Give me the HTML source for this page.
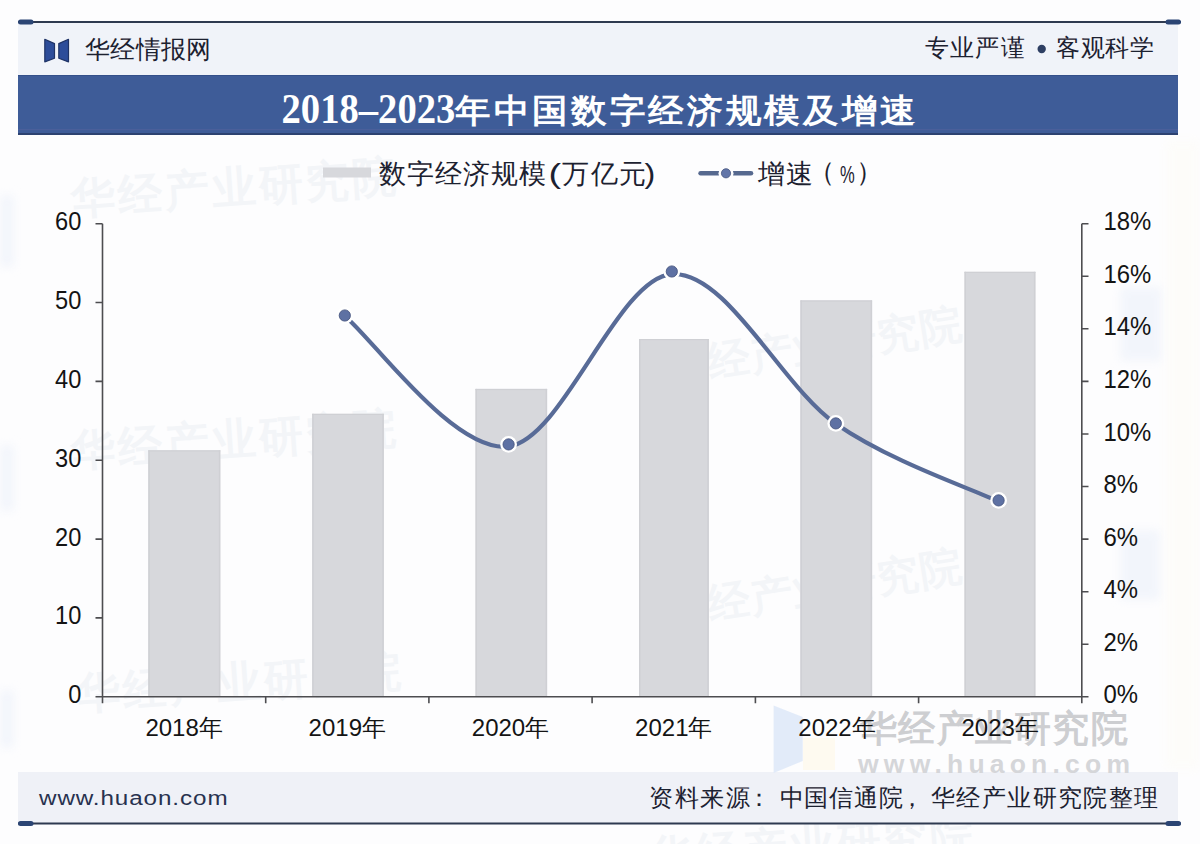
<!DOCTYPE html>
<html><head><meta charset="utf-8">
<style>
html,body{margin:0;padding:0;}
body{width:1200px;height:844px;overflow:hidden;background:#fdfdfe;position:relative;font-family:"Liberation Sans",sans-serif;}
svg{position:absolute;left:0;top:0;}
</style></head>
<body>
<svg width="1200" height="844" viewBox="0 0 1200 844" font-family="Liberation Sans, sans-serif">
<defs>
  <radialGradient id="blob" cx="0.5" cy="0.5" r="0.5">
    <stop offset="0" stop-color="#e9eff9" stop-opacity="0.55"/>
    <stop offset="1" stop-color="#e6edf8" stop-opacity="0"/>
  </radialGradient>
  <filter id="soft" x="-50%" y="-50%" width="200%" height="200%"><feGaussianBlur stdDeviation="5"/></filter>
</defs>

<rect x="0" y="195" width="14" height="72" fill="#e8eef9" opacity="0.5" filter="url(#soft)"/>
<rect x="0" y="445" width="14" height="66" fill="#e8eef9" opacity="0.5" filter="url(#soft)"/>
<rect x="0" y="690" width="14" height="58" fill="#e8eef9" opacity="0.5" filter="url(#soft)"/>
<rect x="1120" y="287" width="42" height="74" fill="#e8eef9" opacity="0.5" filter="url(#soft)"/>
<rect x="1120" y="530" width="40" height="70" fill="#e8eef9" opacity="0.5" filter="url(#soft)"/>
<rect x="1166" y="140" width="34" height="630" fill="#fdfcf7" opacity="0.6" filter="url(#soft)"/>
<text transform="translate(72,214) rotate(-4)" font-size="44" font-weight="bold" fill="#f3f5f8" letter-spacing="3">华经产业研究院</text>
<text transform="translate(72,466) rotate(-4)" font-size="44" font-weight="bold" fill="#f3f5f8" letter-spacing="3">华经产业研究院</text>
<text transform="translate(668,384) rotate(-9)" font-size="42" font-weight="bold" fill="#f3f5f8" letter-spacing="0.8">华经产业研究院</text>
<text transform="translate(668,626) rotate(-9)" font-size="42" font-weight="bold" fill="#f3f5f8" letter-spacing="0.8">华经产业研究院</text>
<text transform="translate(77,709) rotate(-4)" font-size="44" font-weight="bold" fill="#f3f5f8" letter-spacing="3">华经产业研究院</text>
<text transform="translate(650,872) rotate(-4)" font-size="44" font-weight="bold" fill="#f3f5f8" letter-spacing="3">华经产业研究院</text>
<rect x="18" y="23" width="1160" height="52" fill="#f0f3f9"/>
<rect x="18" y="21" width="1163" height="2" fill="#2e3a50"/>
<rect x="18" y="19.5" width="15.5" height="5" rx="2.5" fill="#2b4574"/>
<rect x="1165.5" y="19.5" width="15.5" height="5" rx="2.5" fill="#2b4574"/>
<path d="M44.8 39.3 L54.5 43.6 L54.5 58.3 L44.8 61.9 Z" fill="#2d4d9a" stroke="#1f3366" stroke-width="1.2" stroke-linejoin="round"/>
<path d="M68.5 39.3 L58.8 43.6 L58.8 58.3 L68.5 61.9 Z" fill="#2d4d9a" stroke="#1f3366" stroke-width="1.2" stroke-linejoin="round"/>
<text x="85" y="58" font-size="25" fill="#1c2130" letter-spacing="0.3">华经情报网</text>
<text x="925" y="56.3" font-size="24" fill="#1c2130" letter-spacing="1.2">专业严谨</text>
<circle cx="1041.7" cy="49" r="4.2" fill="#2e3f63"/>
<text x="1056" y="56.3" font-size="24" fill="#1c2130" letter-spacing="0.7">客观科学</text>
<rect x="18" y="75" width="1160" height="60" fill="#3e5c98"/>
<rect x="18" y="75" width="1160" height="1" fill="#34508a"/>
<rect x="18" y="129" width="1160" height="1.2" fill="#4a5f9a"/>
<rect x="18" y="133" width="1160" height="2" fill="#2c4270"/>
<text transform="translate(281.5,122.6) scale(0.92,1)" font-size="42" font-weight="bold" fill="#fff" font-family="Liberation Serif, serif">2018–2023</text>
<text transform="translate(455,121.5) scale(1,0.93)" font-size="35.5" font-weight="bold" fill="#fff" letter-spacing="3.45">年中国数字经济规模及增速</text>
<rect x="18" y="772" width="1160" height="51" fill="#eff1f7"/>
<rect x="18" y="822.5" width="1163" height="2" fill="#2e3a50"/>
<rect x="18" y="821" width="15.5" height="5" rx="2.5" fill="#2b4574"/>
<rect x="1165.5" y="821" width="15.5" height="5" rx="2.5" fill="#2b4574"/>
<text transform="translate(39,805.2) scale(1.2,1.03)" font-size="20.2" fill="#28324f" letter-spacing="0.75">www.huaon.com</text>
<g font-size="24" fill="#1c2130"><text x="649" y="806.3" letter-spacing="1.5">资料来源</text><text x="747" y="806.3">：</text><text x="779.5" y="806.3" letter-spacing="0.8">中国信通院</text><text x="900" y="806.3">，</text><text x="931" y="806.3" letter-spacing="1.4">华经产业研究院整理</text></g>
<rect x="323" y="167.5" width="48" height="10" fill="#d7d8dc"/>
<text x="378.5" y="183" font-size="27" fill="#1c2130" letter-spacing="1.2">数字经济规模</text>
<text transform="translate(548.5,183) scale(1.4,1)" font-size="27" fill="#1c2130">(</text>
<text x="562" y="183" font-size="27" fill="#1c2130" letter-spacing="1.5">万亿元</text>
<text transform="translate(644.5,183) scale(1.2,1)" font-size="27" fill="#1c2130">)</text>
<rect x="698.3" y="171" width="55" height="4.6" rx="2.3" fill="#56698f"/>
<circle cx="726" cy="173.3" r="7.5" fill="#fdfdfe"/>
<circle cx="726" cy="173.3" r="4.6" fill="#6275a8" stroke="#46557f" stroke-width="0.8"/>
<text x="758" y="183" font-size="27" fill="#1c2130" letter-spacing="1">增速</text>
<text x="807.6" y="181" font-size="27" fill="#1c2130">（</text>
<text transform="translate(840,183) scale(0.72,1)" font-size="23" fill="#1c2130">%</text>
<text x="856" y="181" font-size="27" fill="#1c2130">）</text>
<g fill="#d7d8dc">
<rect x="148.3" y="450.3" width="72.0" height="246.5"/>
<rect x="312.2" y="413.8" width="71.6" height="283.0"/>
<rect x="475.5" y="388.9" width="71.6" height="307.9"/>
<rect x="639" y="339" width="69.8" height="357.8"/>
<rect x="800.4" y="300.4" width="71.7" height="396.4"/>
<rect x="964.5" y="271.8" width="70.9" height="425.0"/>
</g>
<g fill="#cfd0d4">
<rect x="148.3" y="450.3" width="72.0" height="1.2"/><rect x="148.3" y="450.3" width="1.5" height="246.5"/><rect x="218.8" y="450.3" width="1.5" height="246.5"/>
<rect x="312.2" y="413.8" width="71.6" height="1.2"/><rect x="312.2" y="413.8" width="1.5" height="283.0"/><rect x="382.3" y="413.8" width="1.5" height="283.0"/>
<rect x="475.5" y="388.9" width="71.6" height="1.2"/><rect x="475.5" y="388.9" width="1.5" height="307.9"/><rect x="545.6" y="388.9" width="1.5" height="307.9"/>
<rect x="639" y="339" width="69.8" height="1.2"/><rect x="639" y="339" width="1.5" height="357.8"/><rect x="707.3" y="339" width="1.5" height="357.8"/>
<rect x="800.4" y="300.4" width="71.7" height="1.2"/><rect x="800.4" y="300.4" width="1.5" height="396.4"/><rect x="870.6" y="300.4" width="1.5" height="396.4"/>
<rect x="964.5" y="271.8" width="70.9" height="1.2"/><rect x="964.5" y="271.8" width="1.5" height="425.0"/><rect x="1033.9" y="271.8" width="1.5" height="425.0"/>
</g>
<path d="M773.6 705.4 L802.7 717 L802.7 761 L773.6 773 Z" fill="#dfe9f8" opacity="0.9"/>
<rect x="803" y="738" width="32" height="32" fill="#fdf8ea" opacity="0.7"/>
<text x="859.5" y="740.5" font-size="37" fill="#cdced1" stroke="#cdced1" stroke-width="1.1" letter-spacing="1.6">华经产业研究院</text>
<text x="858" y="773.3" font-size="26.5" font-weight="bold" fill="#d5d6d9" letter-spacing="5.2">www.huaon.com</text>
<g stroke="#4d4d50" stroke-width="1.6" fill="none">
<path d="M102.5 223.7 V703.3 M1081.8 223.7 V703.3 M95.5 696.8 H1088.5"/>
<path d="M95.5 617.9 H102.5 M95.5 539.1 H102.5 M95.5 460.2 H102.5 M95.5 381.4 H102.5 M95.5 302.5 H102.5 M95.5 223.7 H102.5 M1081.8 644.2 H1088.5 M1081.8 591.7 H1088.5 M1081.8 539.1 H1088.5 M1081.8 486.5 H1088.5 M1081.8 434.0 H1088.5 M1081.8 381.4 H1088.5 M1081.8 328.8 H1088.5 M1081.8 276.3 H1088.5 M1081.8 223.7 H1088.5 M265.7 696.8 V703.3 M428.9 696.8 V703.3 M592.1 696.8 V703.3 M755.4 696.8 V703.3 M918.6 696.8 V703.3"/>
</g>
<g font-size="25.7" fill="#141414" text-anchor="end">
<text transform="translate(81.4,703.3) scale(0.92,1)">0</text>
<text transform="translate(81.4,624.4) scale(0.92,1)">10</text>
<text transform="translate(81.4,545.6) scale(0.92,1)">20</text>
<text transform="translate(81.4,466.7) scale(0.92,1)">30</text>
<text transform="translate(81.4,387.9) scale(0.92,1)">40</text>
<text transform="translate(81.4,309.0) scale(0.92,1)">50</text>
<text transform="translate(81.4,230.2) scale(0.92,1)">60</text>
</g>
<g font-size="25.7" fill="#141414">
<text transform="translate(1103.5,703.3) scale(0.93,1)">0%</text>
<text transform="translate(1103.5,650.7) scale(0.93,1)">2%</text>
<text transform="translate(1103.5,598.2) scale(0.93,1)">4%</text>
<text transform="translate(1103.5,545.6) scale(0.93,1)">6%</text>
<text transform="translate(1103.5,493.0) scale(0.93,1)">8%</text>
<text transform="translate(1103.5,440.5) scale(0.93,1)">10%</text>
<text transform="translate(1103.5,387.9) scale(0.93,1)">12%</text>
<text transform="translate(1103.5,335.3) scale(0.93,1)">14%</text>
<text transform="translate(1103.5,282.8) scale(0.93,1)">16%</text>
<text transform="translate(1103.5,230.2) scale(0.93,1)">18%</text>
</g>
<g font-size="24" fill="#141414" text-anchor="middle">
<text x="184.1" y="736.3">2018年</text>
<text x="347.3" y="736.3">2019年</text>
<text x="510.5" y="736.3">2020年</text>
<text x="673.8" y="736.3">2021年</text>
<text x="837.0" y="736.3">2022年</text>
<text x="1000.2" y="736.3">2023年</text>
</g>
<path d="M344.8 316.1 C372.1 337.8 454.1 453.5 508.6 446.5 C563.1 439.5 617.3 278.0 671.8 274.2 C726.3 270.4 781.3 385.8 835.8 423.7 C890.3 461.6 971.5 488.6 998.6 501.6" stroke="#586b97" stroke-width="4.2" fill="none" stroke-linecap="butt"/>
<g>
<circle cx="344.8" cy="315.5" r="8.4" fill="#fff"/><circle cx="344.8" cy="315.5" r="5.6" fill="#5e71a3" stroke="#46557f" stroke-width="0.9"/>
<circle cx="508.6" cy="444.4" r="8.4" fill="#fff"/><circle cx="508.6" cy="444.4" r="5.6" fill="#5e71a3" stroke="#46557f" stroke-width="0.9"/>
<circle cx="671.8" cy="271.5" r="8.4" fill="#fff"/><circle cx="671.8" cy="271.5" r="5.6" fill="#5e71a3" stroke="#46557f" stroke-width="0.9"/>
<circle cx="835.8" cy="423.4" r="8.4" fill="#fff"/><circle cx="835.8" cy="423.4" r="5.6" fill="#5e71a3" stroke="#46557f" stroke-width="0.9"/>
<circle cx="998.6" cy="500.4" r="8.4" fill="#fff"/><circle cx="998.6" cy="500.4" r="5.6" fill="#5e71a3" stroke="#46557f" stroke-width="0.9"/>
</g>
</svg>
</body></html>
